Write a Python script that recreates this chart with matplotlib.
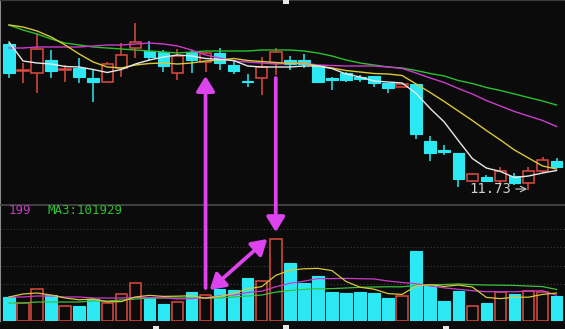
import numpy as np
import matplotlib
matplotlib.use("Agg")
import matplotlib.pyplot as plt
from matplotlib.patches import Rectangle, ConnectionPatch

# daily bars, oldest first (price, low of the swing = 11.73)
opens = [14.65, 14.11, 14.07, 14.33, 14.13, 14.17, 13.97, 13.89, 14.17, 14.57,
         14.51, 14.49, 14.07, 14.49, 14.29, 14.47, 14.23, 13.91, 13.97, 14.27,
         14.33, 14.33, 14.23, 13.97, 14.07, 13.99, 14.01, 13.87, 13.79, 13.85,
         12.71, 12.53, 12.47, 11.91, 11.99, 11.91, 12.01, 11.87, 12.11, 12.31]
closes = [14.07, 14.13, 14.55, 14.11, 14.15, 13.99, 13.89, 14.25, 14.43, 14.69,
          14.39, 14.21, 14.41, 14.33, 14.47, 14.27, 14.11, 13.89, 14.19, 14.49,
          14.25, 14.25, 13.89, 13.93, 13.93, 13.95, 13.87, 13.77, 13.85, 12.85,
          12.47, 12.49, 11.95, 12.05, 11.91, 12.11, 11.87, 12.11, 12.33, 12.19]
highs = [14.67, 14.27, 14.87, 14.53, 14.23, 14.37, 14.13, 14.29, 14.67, 15.07,
         14.71, 14.53, 14.55, 14.53, 14.49, 14.57, 14.33, 14.05, 14.39, 14.57,
         14.41, 14.45, 14.23, 13.99, 14.09, 14.03, 14.01, 13.87, 13.85, 13.85,
         12.81, 12.63, 12.47, 12.07, 12.03, 12.19, 12.07, 12.19, 12.39, 12.37]
lows = [13.97, 13.87, 13.67, 13.97, 13.89, 13.87, 13.49, 13.89, 13.99, 14.37,
        14.31, 14.09, 13.93, 14.07, 14.09, 14.13, 14.05, 13.79, 13.63, 14.03,
        14.13, 14.17, 13.87, 13.73, 13.89, 13.89, 13.79, 13.67, 13.79, 12.75,
        12.31, 12.43, 11.79, 11.89, 11.89, 11.83, 11.83, 11.73, 12.07, 12.17]
volumes = [87400, 65500, 116500, 94600, 54600, 54600, 80100, 65500, 98300, 138300,
           83700, 61900, 69200, 105600, 94600, 116500, 112800, 156500, 145600, 298500,
           211100, 138300, 163800, 105600, 101900, 105600, 101900, 83700, 91000, 254800,
           127400, 72800, 109200, 54600, 65500, 105600, 98300, 109200, 105600, 90987]

# price moving averages as drawn (window starts before the visible range)
ma5 = [14.69, 14.31, 14.27, 14.25, 14.20, 14.19, 14.14, 14.08, 14.14, 14.25,
       14.33, 14.39, 14.43, 14.41, 14.36, 14.34, 14.32, 14.21, 14.19, 14.19,
       14.19, 14.21, 14.21, 14.16, 14.05, 13.99, 13.91, 13.89, 13.87, 13.66,
       13.36, 13.09, 12.72, 12.36, 12.17, 12.10, 11.98, 12.01, 12.07, 12.12]
ma10 = [15.03, 14.99, 14.91, 14.79, 14.63, 14.45, 14.29, 14.19, 14.17, 14.23,
        14.26, 14.27, 14.25, 14.27, 14.31, 14.33, 14.36, 14.32, 14.30, 14.28,
        14.26, 14.27, 14.21, 14.17, 14.12, 14.09, 14.06, 14.05, 14.02, 13.85,
        13.68, 13.50, 13.31, 13.12, 12.92, 12.73, 12.53, 12.37, 12.21, 12.15]
ma20 = [14.57, 14.57, 14.59, 14.59, 14.59, 14.59, 14.61, 14.63, 14.63, 14.65,
        14.67, 14.65, 14.61, 14.53, 14.43, 14.37, 14.31, 14.29, 14.27, 14.25,
        14.26, 14.27, 14.23, 14.22, 14.21, 14.21, 14.21, 14.19, 14.16, 14.07,
        13.97, 13.88, 13.76, 13.65, 13.52, 13.41, 13.30, 13.21, 13.12, 13.00]
ma30 = [15.03, 14.93, 14.85, 14.75, 14.67, 14.63, 14.59, 14.57, 14.55, 14.53,
        14.51, 14.49, 14.47, 14.49, 14.51, 14.51, 14.51, 14.51, 14.53, 14.53,
        14.53, 14.51, 14.47, 14.41, 14.33, 14.27, 14.23, 14.19, 14.17, 14.12,
        14.06, 14.01, 13.92, 13.86, 13.78, 13.72, 13.65, 13.58, 13.51, 13.43]

# volume moving averages
vma5 = [87400, 98300, 101900, 94600, 83700, 77200, 80100, 69900, 70600, 87400,
        93200, 89500, 90300, 91700, 83000, 89500, 99700, 117200, 125200, 166000,
        184900, 190000, 191500, 183500, 144100, 123000, 115800, 99700, 96800, 127400,
        131800, 125900, 131000, 123800, 85900, 81500, 86600, 86600, 96800, 101900]
vma10 = [87400, 87400, 91000, 91000, 87400, 87400, 83700, 83700, 83700, 85500,
         85200, 84800, 80100, 81200, 85200, 91400, 94600, 103700, 108500, 124500,
         137200, 144900, 154300, 154300, 155100, 154000, 152900, 145600, 140100, 135800,
         127400, 120800, 115400, 110300, 106700, 106700, 106300, 108800, 110300, 93900]
vma20 = [65500, 65500, 69200, 69200, 69200, 69200, 72800, 72800, 76400, 80100,
         83700, 83700, 83700, 83700, 83700, 83700, 87400, 91000, 94600, 105000,
         111200, 114800, 117200, 117800, 120100, 122700, 123800, 124700, 124300, 130100,
         132300, 132900, 134900, 132300, 130900, 130300, 129600, 127200, 125200, 114800]

BG = '#0b0b0b'
UP = '#dc4a40'
DOWN = '#2ce8f2'
ARROW = '#dd44ee'

n = len(closes)
x = np.arange(n)

fig = plt.figure(figsize=(5.65, 3.29), dpi=100, facecolor=BG)
ax = fig.add_axes([0, 124 / 329, 1, 205 / 329])
axv = fig.add_axes([0, 8 / 329, 1, 116 / 329])

for a in (ax, axv):
    a.set_facecolor(BG)
    a.set_xlim(-0.64, 39.6)
    a.set_xticks([])
    a.set_yticks([])
    for s in a.spines.values():
        s.set_visible(False)
    a.spines['left'].set_visible(True)
    a.spines['left'].set_color('#8a8a8a')
    a.spines['left'].set_linewidth(1.5)

ax.set_ylim(11.43, 15.53)
ax.spines['top'].set_visible(True)
ax.spines['top'].set_color('#3a3a3a')
ax.spines['top'].set_linewidth(1.5)
axv.set_ylim(0, 422240)
axv.spines['top'].set_visible(True)
axv.spines['top'].set_color('#4a4a4a')
axv.spines['top'].set_linewidth(1.2)

# dotted guides in the volume pane
for g in [134700, 202000, 269400, 336700]:
    axv.axhline(g, color='#3c3c3c', lw=0.8, ls=(0, (1, 2)), zorder=0)

w = 0.82
for i in range(n):
    o, c, h, l = opens[i], closes[i], highs[i], lows[i]
    up = c >= o
    col = UP if up else DOWN
    top, bot = max(o, c), min(o, c)
    body = max(top - bot, 0.01)
    ax.vlines(i, top, h, color=col, lw=1.1, zorder=2)
    ax.vlines(i, l, bot, color=col, lw=1.1, zorder=2)
    if up:
        ax.add_patch(Rectangle((i - w / 2, bot), w, body, facecolor=BG,
                               edgecolor=col, lw=1.1, zorder=3))
        axv.add_patch(Rectangle((i - w / 2, 0), w, volumes[i], facecolor=BG,
                                edgecolor=col, lw=1.1, zorder=2))
    else:
        ax.add_patch(Rectangle((i - w / 2, bot), w, body, facecolor=col,
                               edgecolor=col, lw=0.8, zorder=3))
        axv.add_patch(Rectangle((i - w / 2, 0), w, volumes[i], facecolor=col,
                                edgecolor=col, lw=0.8, zorder=2))

ax.plot(x, ma30, color='#2cc02c', lw=1, zorder=4)
ax.plot(x, ma20, color='#cc3ccc', lw=1, zorder=4)
ax.plot(x, ma10, color='#d8c83a', lw=1, zorder=4)
ax.plot(x, ma5, color='#e8e8e8', lw=1, zorder=5)

axv.plot(x, vma20, color='#3cc03c', lw=0.9, zorder=4)
axv.plot(x, vma10, color='#cc3ccc', lw=0.9, zorder=4)
axv.plot(x, vma5, color='#d8c83a', lw=0.9, zorder=5)

# lowest low marker
lo = int(np.argmin(lows))
ax.annotate(f'{lows[lo]:.2f}', xy=(lo - 0.1, lows[lo] + 0.02), xytext=(lo - 1.2, lows[lo] + 0.02),
            ha='right', va='center', color='#cfcfcf', fontsize=10,
            family='DejaVu Sans Mono',
            arrowprops=dict(arrowstyle='->', color='#cfcfcf', lw=0.8,
                            shrinkA=1, shrinkB=0))

ma3 = int(round(np.mean(volumes[-3:])))
fig.text(9 / 565, 1 - 211 / 329, '199', color='#c040c0', fontsize=9,
         family='DejaVu Sans Mono', va='center', ha='left')
fig.text(47 / 565, 1 - 211 / 329, f'MA3:{ma3}', color='#30c030', fontsize=9,
         family='DejaVu Sans Mono', va='center', ha='left')

# arrows: price -> volume link between day 14 and day 19
a1, a2 = 14, 19
arr = dict(color=ARROW, lw=2.7, mutation_scale=10, zorder=10)
up_arrow = ConnectionPatch(xyA=(a1, 120000), coordsA=axv.transData,
                           xyB=(a1, lows[a1] - 0.08), coordsB=ax.transData,
                           arrowstyle='-|>,head_length=0.9,head_width=0.55', **arr)
down_arrow = ConnectionPatch(xyA=(a2, lows[a2] - 0.06), coordsA=ax.transData,
                             xyB=(a2, volumes[a2] + 25000), coordsB=axv.transData,
                             arrowstyle='-|>,head_length=0.9,head_width=0.55', **arr)
diag = ConnectionPatch(xyA=(a1 + 0.3, 112800), coordsA=axv.transData,
                       xyB=(a2 - 0.6, volumes[a2]), coordsB=axv.transData,
                       arrowstyle='<|-|>,head_length=0.9,head_width=0.55', **arr)
for p in (up_arrow, down_arrow, diag):
    fig.add_artist(p)

# cursor ticks on the frame edges
for px, py in [(283, 0), (153, 326), (283, 325), (443, 326)]:
    fig.add_artist(Rectangle((px / 565, 1 - (py + 4) / 329), 6 / 565, 4 / 329,
                             transform=fig.transFigure, facecolor='#e8e8e8',
                             edgecolor='none'))

fig.savefig('out.png', dpi=100, facecolor=BG)
